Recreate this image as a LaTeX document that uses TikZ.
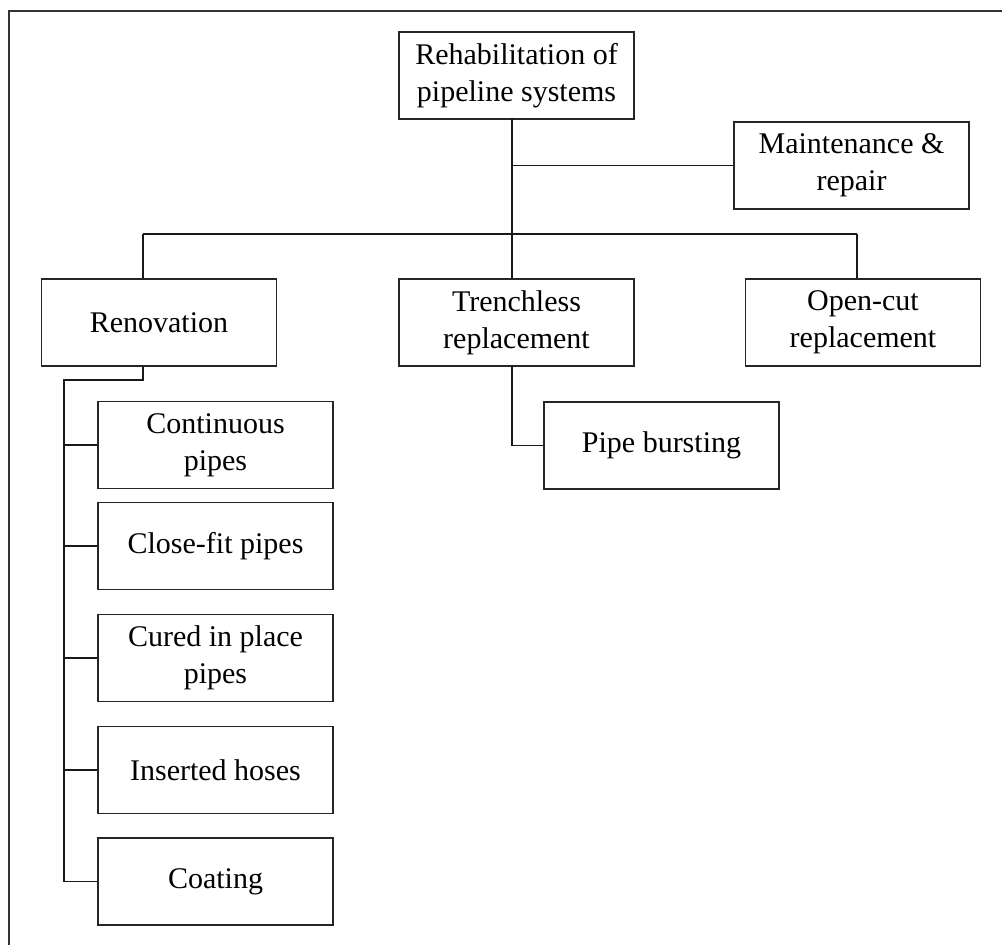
\documentclass[tikz,border=0pt]{standalone}
\usepackage{fontspec}
\setmainfont{Liberation Serif}
\begin{document}
\begin{tikzpicture}[x=1pt,y=-1pt,
  box/.style={draw=black!85, line width=1.4pt, minimum width=235pt, minimum height=87pt,
    inner sep=0pt, align=center, font=\fontsize{30}{37}\selectfont},
  conn/.style={draw=black!90, line width=1.3pt}]
\useasboundingbox (0,0) rectangle (1002,945);
\fill[white] (0,0) rectangle (1002,945);
\draw[black!80, line width=2pt] (8.5,945) -- (8.5,11) -- (1002,11);

\node[box] (rehab) at (516.5,75.5) {Rehabilitation of\\pipeline systems};
\node[box] (maint) at (851.5,165.5) {Maintenance \&\\repair};
\node[box] (renov) at (159,322.5) {Renovation};
\node[box] (trench) at (516.5,322.5) {Trenchless\\replacement};
\node[box] (open) at (863,322.5) {Open-cut\\replacement};
\node[box] (burst) at (661.5,445.5) {Pipe bursting};
\node[box] (cont) at (215.5,445) {Continuous\\pipes};
\node[box] (close) at (215.5,546) {Close-fit pipes};
\node[box] (cured) at (215.5,658) {Cured in place\\pipes};
\node[box] (ins) at (215.5,770) {Inserted hoses};
\node[box] (coat) at (215.5,881.5) {Coating};

\coordinate (trunk) at (512,234);
\coordinate (bl) at (143,234);
\coordinate (br) at (857,234);
\coordinate (rk) at (143,380);
\coordinate (rv) at (64,380);
\coordinate (tk) at (512,446);

% main trunk
\draw[conn] ([xshift=-4.5pt,yshift=2pt]rehab.south) -- ([xshift=-4.5pt]trench.north);
\draw[conn] (trunk |- maint.west) -- (maint.west);
\draw[conn] (bl) -- (br);
\draw[conn] (bl) -- (bl |- renov.north);
\draw[conn] (br) -- (br |- open.north);

% renovation branch
\draw[conn] (rk |- renov.south) -- (rk) -- (rv) -- (rv |- coat.west) -- (coat.west);
\draw[conn] (rv |- cont.west) -- (cont.west);
\draw[conn] (rv |- close.west) -- (close.west);
\draw[conn] (rv |- cured.west) -- (cured.west);
\draw[conn] (rv |- ins.west) -- (ins.west);

% trenchless branch
\draw[conn] ([yshift=2pt]tk |- trench.south) -- (tk |- burst.west) -- (burst.west);
\end{tikzpicture}
\end{document}
